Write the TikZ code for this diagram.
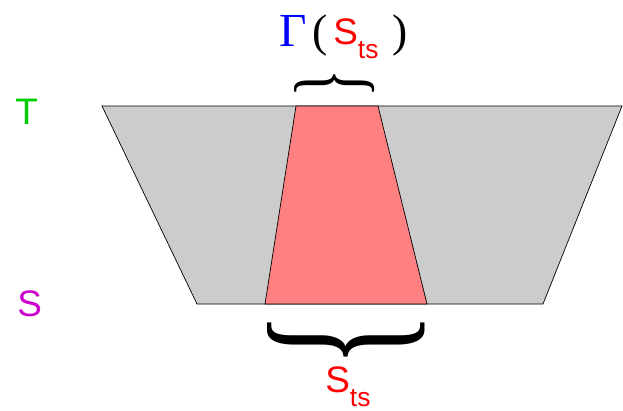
\documentclass[tikz,border=0pt]{standalone}
\usepackage{fontspec}
\setmainfont{Liberation Sans}
\newfontfamily\timesfont{Liberation Serif}
\definecolor{griTrap}{HTML}{CCCCCC}
\definecolor{pembeTrap}{HTML}{FF8080}
\definecolor{yesilT}{HTML}{00CC00}
\definecolor{morS}{HTML}{CC00CC}
\newcommand{\bigfont}{\fontsize{21}{25}\selectfont}
\newcommand{\subts}{\raisebox{-0.4em}{\fontsize{15}{17}\selectfont ts}}
\newcommand{\yatayparantez}[3]{\resizebox*{#1}{#2}{\rotatebox{#3}{\timesfont\{}}}

\begin{document}
\begin{tikzpicture}[x=0.02cm,y=-0.02cm,
  lbl/.style={inner sep=0pt,anchor=base west,font=\bigfont}]
\useasboundingbox (0,0) rectangle (623,410);
% kesik koniler
\draw[fill=griTrap] (102,106)--(622,106)--(543,304)--(197,304)--cycle;
\draw[fill=pembeTrap] (296,106)--(378,106)--(427,304)--(265,304)--cycle;
% parantezler
\node[inner sep=0pt] (ustParantez) at (335,83) {\yatayparantez{1.6cm}{0.56cm}{-90}};
\node[inner sep=0pt] (altParantez) at (346,340) {\yatayparantez{3.15cm}{1.1cm}{90}};
% etiketler
\node[lbl,yesilT] (T) at (15,124) {T};
\node[lbl,morS] (S) at (17,316) {S};
\node[lbl,blue,font=\fontsize{27}{30}\selectfont\timesfont] (gamma) at (279,46) {Γ};
\node[lbl,font=\fontsize{26}{30}\selectfont\timesfont] (lpar) at (312,46) {(};
\node[lbl,red] (stsUst) at (333,44) {S\subts};
\node[lbl,font=\fontsize{26}{30}\selectfont\timesfont] (rpar) at (392,46) {)};
\node[lbl,red] (stsAlt) at (325,392) {S\subts};
\end{tikzpicture}
\end{document}
